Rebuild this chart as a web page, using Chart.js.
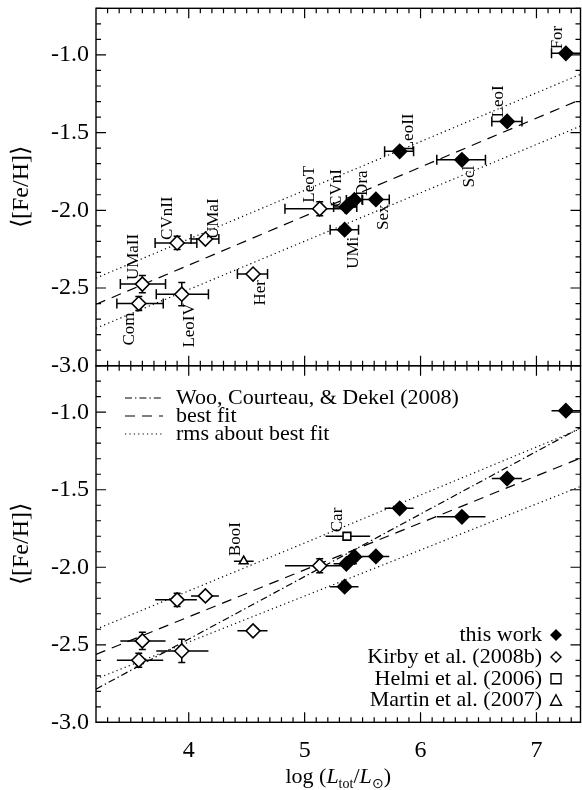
<!DOCTYPE html>
<html>
<head>
<meta charset="utf-8">
<script src="https://cdn.jsdelivr.net/npm/chart.js@4.4.1/dist/chart.umd.min.js"></script>
<style>
html,body{margin:0;padding:0;background:#fff;}
#wrap{position:relative;width:582px;height:790px;background:#fff;}
canvas{position:absolute;left:0;}
#top{top:0;}
#bot{top:360px;}
</style>
</head>
<body>
<div id="wrap">
<canvas id="top" width="582" height="372"></canvas>
<canvas id="bot" width="582" height="430"></canvas>
</div>
<script>
const serif = "'Liberation Serif', 'Times New Roman', serif";

// this work (filled diamonds)
const workNames = ['UMi','Scl','Dra','Sex','CVnI','LeoII','LeoI','For'];
const workLogL  = [5.345, 6.357, 5.43, 5.615, 5.36, 5.82, 6.747, 7.254];
const workFeH   = [-2.125, -1.675, -1.933, -1.93, -1.978, -1.62, -1.428, -0.99];
const workLo    = [5.22, 6.14, 5.36, 5.495, 5.25, 5.69, 6.615, 7.13];
const workHi    = [5.465, 6.56, 5.50, 5.73, 5.45, 5.94, 6.875, 7.40];
const workErr   = [0, 0, 0, 0, 0, 0, 0, 0];

// Kirby et al. (2008b) (open diamonds)
const kirbyNames = ['Com','UMaII','CVnII','UMaI','LeoIV','Her','LeoT'];
const kirbyLogL  = [3.569, 3.60, 3.90, 4.144, 3.94, 4.555, 5.13];
const kirbyFeH   = [-2.60, -2.475, -2.21, -2.185, -2.54, -2.41, -1.99];
const kirbyLo    = [3.38, 3.41, 3.71, 4.02, 3.72, 4.42, 4.83];
const kirbyHi    = [3.78, 3.80, 4.07, 4.26, 4.17, 4.68, 5.35];
const kirbyErr   = [0.045, 0.056, 0.043, 0.02, 0.075, 0.02, 0.045];

// Helmi et al. (2006) (open square) and Martin et al. (2007) (open triangle)
const helmiNames = ['Car'];
const helmiLogL = [5.365];
const helmiFeH = [-1.80];
const helmiLo = [5.18];
const helmiHi = [5.565];
const martinNames = ['BooI'];
const martinLogL = [4.474];
const martinFeH = [-1.961];
const martinLo = [4.39];
const martinHi = [4.56];

// relations, evaluated at the edges of the plot
const lineLogL = [3.2, 7.38];
const topFit   = [-2.605, -1.287];
const topRmsHi = [-2.436, -1.125];
const topRmsLo = [-2.759, -1.458];
const botWoo   = [-2.786, -1.10];
const botFit   = [-2.562, -1.296];
const botRmsHi = [-2.40, -1.107];
const botRmsLo = [-2.72, -1.479];

// axes
const xTicks = [4, 5, 6, 7];
const yTicks = [-3.0, -2.5, -2.0, -1.5, -1.0];

const legendLines = ['Woo, Courteau, & Dekel (2008)', 'best fit', 'rms about best fit'];
const legendSymbols = ['this work', 'Kirby et al. (2008b)', 'Helmi et al. (2006)', 'Martin et al. (2007)'];

// label placement: [dx, dy, direction]
const labelPlace = {
  Com:[-9,9,'down'], UMaII:[-9,-4,'up'], CVnII:[-10,-3,'up'], UMaI:[8,0,'up'],
  LeoIV:[8,9,'down'], Her:[7,6,'down'], LeoT:[-10,-6,'up'], CVnI:[-10,0,'up'],
  Dra:[8,-4,'up'], Sex:[8,5,'down'], UMi:[9,7,'down'], LeoII:[9,0,'up'],
  Scl:[8,6,'down'], LeoI:[-9,-4,'up'], For:[-8,-4,'up'], BooI:[-8,-5,'up'], Car:[-9,-4,'up']
};

const dashFit = [10, 7];
const dashDot = [1.2, 3.2];
const dashWoo = [7, 3, 1.4, 3];

function pts(xs, ys) { return xs.map((x, i) => ({x: x, y: ys[i]})); }

function lineSet(ys, dash) {
  return {type:'line', data: pts(lineLogL, ys), borderColor:'#000', borderWidth:1.2,
    borderDash: dash, pointRadius:0, showLine:true, fill:false, order:3};
}

function markSet(xs, ys, style, r, fill) {
  return {type:'scatter', data: pts(xs, ys), pointStyle: style, pointRadius: r,
    pointHoverRadius: r, backgroundColor: fill, borderColor:'#000', borderWidth:1.6, order:1};
}

function groups(panel) {
  const g = [
    {names: workNames, x: workLogL, y: workFeH, lo: workLo, hi: workHi, e: workErr},
    {names: kirbyNames, x: kirbyLogL, y: kirbyFeH, lo: kirbyLo, hi: kirbyHi, e: kirbyErr}
  ];
  if (panel === 'bottom') {
    g.push({names: helmiNames, x: helmiLogL, y: helmiFeH, lo: helmiLo, hi: helmiHi, e: [0]});
    g.push({names: martinNames, x: martinLogL, y: martinFeH, lo: martinLo, hi: martinHi, e: [0]});
  }
  return g;
}

function datasets(panel) {
  const d = [
    markSet(workLogL, workFeH, 'rectRot', 7, '#000'),
    markSet(kirbyLogL, kirbyFeH, 'rectRot', 7, '#fff')
  ];
  if (panel === 'top') {
    d.push(lineSet(topFit, dashFit), lineSet(topRmsHi, dashDot), lineSet(topRmsLo, dashDot));
  } else {
    d.push(markSet(helmiLogL, helmiFeH, 'rect', 5.5, '#fff'));
    d.push(markSet(martinLogL, martinFeH, 'triangle', 5, '#fff'));
    d.push(lineSet(botWoo, dashWoo), lineSet(botFit, dashFit), lineSet(botRmsHi, dashDot), lineSet(botRmsLo, dashDot));
  }
  return d;
}

function drawErrorBars(chart, panel) {
  const {ctx, chartArea: a, scales: {x, y}} = chart;
  ctx.save();
  ctx.beginPath();
  ctx.rect(a.left, a.top, a.right - a.left, a.bottom - a.top);
  ctx.clip();
  ctx.strokeStyle = '#000';
  ctx.lineWidth = 1.5;
  groups(panel).forEach(g => {
    g.names.forEach((n, i) => {
      const py = y.getPixelForValue(g.y[i]);
      const x0 = x.getPixelForValue(g.lo[i]), x1 = x.getPixelForValue(g.hi[i]);
      ctx.beginPath();
      ctx.moveTo(x0, py); ctx.lineTo(x1, py);
      if (panel === 'top') {
        ctx.moveTo(x0, py - 5); ctx.lineTo(x0, py + 5);
        ctx.moveTo(x1, py - 5); ctx.lineTo(x1, py + 5);
      }
      if (g.e[i] > 0) {
        const px = x.getPixelForValue(g.x[i]);
        const y0 = y.getPixelForValue(g.y[i] - g.e[i]), y1 = y.getPixelForValue(g.y[i] + g.e[i]);
        ctx.moveTo(px, y0); ctx.lineTo(px, y1);
        ctx.moveTo(px - 3.5, y0); ctx.lineTo(px + 3.5, y0);
        ctx.moveTo(px - 3.5, y1); ctx.lineTo(px + 3.5, y1);
      }
      ctx.stroke();
    });
  });
  ctx.restore();
}

function drawFrame(chart) {
  const {ctx, chartArea: a, scales: {x, y}} = chart;
  ctx.save();
  ctx.strokeStyle = '#000';
  ctx.lineWidth = 1.4;
  ctx.strokeRect(a.left, a.top, a.right - a.left, a.bottom - a.top);
  ctx.lineWidth = 1.2;
  ctx.beginPath();
  for (let i = 33; i <= 73; i++) {
    const px = x.getPixelForValue(i / 10);
    const L = (i % 10 === 0) ? 10 : 5;
    ctx.moveTo(px, a.bottom); ctx.lineTo(px, a.bottom - L);
    ctx.moveTo(px, a.top); ctx.lineTo(px, a.top + L);
  }
  for (let i = -30; i <= -7; i++) {
    const py = y.getPixelForValue(i / 10);
    const L = (i % 5 === 0) ? 10 : 5;
    ctx.moveTo(a.left, py); ctx.lineTo(a.left + L, py);
    ctx.moveTo(a.right, py); ctx.lineTo(a.right - L, py);
  }
  ctx.stroke();
  ctx.restore();
}

function drawPointLabels(chart, panel) {
  const {ctx, scales: {x, y}} = chart;
  const list = panel === 'top'
    ? [{names: workNames, x: workLogL, y: workFeH}, {names: kirbyNames, x: kirbyLogL, y: kirbyFeH}]
    : [{names: helmiNames, x: helmiLogL, y: helmiFeH}, {names: martinNames, x: martinLogL, y: martinFeH}];
  ctx.save();
  ctx.fillStyle = '#000';
  ctx.font = '17px ' + serif;
  ctx.textBaseline = 'middle';
  list.forEach(g => g.names.forEach((n, i) => {
    const p = labelPlace[n];
    ctx.save();
    ctx.translate(x.getPixelForValue(g.x[i]) + p[0], y.getPixelForValue(g.y[i]) + p[1]);
    ctx.rotate(-Math.PI / 2);
    ctx.textAlign = p[2] === 'up' ? 'left' : 'right';
    ctx.fillText(n, 0, 0);
    ctx.restore();
  }));
  ctx.restore();
}

function drawYTitle(chart) {
  const {ctx, chartArea: a} = chart;
  ctx.save();
  ctx.fillStyle = '#000';
  ctx.font = '24px ' + serif;
  ctx.textAlign = 'center';
  ctx.textBaseline = 'middle';
  ctx.translate(22, (a.top + a.bottom) / 2);
  ctx.rotate(-Math.PI / 2);
  ctx.fillText('\u27E8[Fe/H]\u27E9', 0, 0);
  ctx.restore();
}

function drawXTitle(chart) {
  const {ctx, chartArea: a} = chart;
  const parts = [
    ['log (', '22px ' + serif, 0], ['L', 'italic 22px ' + serif, 0], ['tot', '14px ' + serif, 5],
    ['/', '22px ' + serif, 0], ['L', 'italic 22px ' + serif, 0], ['\u2299', '14px ' + serif, 5],
    [')', '22px ' + serif, 0]
  ];
  ctx.save();
  ctx.fillStyle = '#000';
  ctx.textBaseline = 'alphabetic';
  let w = 0;
  parts.forEach(p => { ctx.font = p[1]; w += ctx.measureText(p[0]).width; });
  let cx = (a.left + a.right) / 2 - w / 2;
  const base = 423;
  parts.forEach(p => {
    ctx.font = p[1];
    ctx.fillText(p[0], cx, base + p[2]);
    cx += ctx.measureText(p[0]).width;
  });
  ctx.restore();
}

function drawLineLegend(chart) {
  const ctx = chart.ctx;
  const dashes = [dashWoo, dashFit, dashDot];
  ctx.save();
  ctx.fillStyle = '#000';
  ctx.strokeStyle = '#000';
  ctx.lineWidth = 1.2;
  ctx.font = '22px ' + serif;
  ctx.textBaseline = 'middle';
  legendLines.forEach((t, i) => {
    const yy = 38 + i * 18;
    ctx.setLineDash(dashes[i]);
    ctx.beginPath(); ctx.moveTo(125, yy); ctx.lineTo(163, yy); ctx.stroke();
    ctx.setLineDash([]);
    ctx.fillText(t, 176, yy);
  });
  ctx.restore();
}

function drawSymbolLegend(chart) {
  const ctx = chart.ctx;
  ctx.save();
  ctx.fillStyle = '#000';
  ctx.strokeStyle = '#000';
  ctx.lineWidth = 1.4;
  ctx.font = '22px ' + serif;
  ctx.textBaseline = 'middle';
  ctx.textAlign = 'right';
  legendSymbols.forEach((t, i) => {
    const yy = 275 + i * 21.9;
    ctx.fillText(t, 542, yy);
    const sx = 556;
    ctx.beginPath();
    if (i === 0) {
      ctx.moveTo(sx, yy - 6); ctx.lineTo(sx + 6, yy); ctx.lineTo(sx, yy + 6); ctx.lineTo(sx - 6, yy); ctx.closePath();
      ctx.fill();
    } else if (i === 1) {
      ctx.moveTo(sx, yy - 5); ctx.lineTo(sx + 5, yy); ctx.lineTo(sx, yy + 5); ctx.lineTo(sx - 5, yy); ctx.closePath();
      ctx.stroke();
    } else if (i === 2) {
      ctx.rect(sx - 5, yy - 5, 10, 10);
      ctx.stroke();
    } else {
      ctx.moveTo(sx, yy - 6); ctx.lineTo(sx + 5.5, yy + 4.5); ctx.lineTo(sx - 5.5, yy + 4.5); ctx.closePath();
      ctx.stroke();
    }
  });
  ctx.restore();
}

function decor(panel) {
  return {
    id: 'decor_' + panel,
    beforeDatasetsDraw(chart) { drawErrorBars(chart, panel); },
    afterDraw(chart) {
      drawFrame(chart);
      drawPointLabels(chart, panel);
      drawYTitle(chart);
      if (panel === 'bottom') {
        drawLineLegend(chart);
        drawSymbolLegend(chart);
        drawXTitle(chart);
      }
    }
  };
}

function xScale(show) {
  return {
    type: 'linear', min: 3.2, max: 7.38, display: show, position: 'bottom',
    grid: {display: false, drawTicks: false}, border: {display: false},
    ticks: {color: '#000', font: {family: serif, size: 24}, padding: 14, autoSkip: false,
      maxRotation: 0, callback: v => String(v)},
    afterBuildTicks: s => { s.ticks = xTicks.map(v => ({value: v})); },
    afterFit: s => {
      s.height = show ? 67.7 : 0;
      s.paddingLeft = 0; s.paddingRight = 0;
    }
  };
}

function yScale() {
  return {
    type: 'linear', min: -3.0, max: -0.7,
    grid: {display: false, drawTicks: false}, border: {display: false},
    ticks: {color: '#000', font: {family: serif, size: 24}, padding: 7, autoSkip: false,
      callback: v => v.toFixed(1)},
    afterBuildTicks: s => { s.ticks = yTicks.map(v => ({value: v})); },
    afterFit: s => {
      s.width = 96;
      s.paddingTop = 0; s.paddingBottom = 0;
    }
  };
}

function makeChart(id, panel, padding) {
  return new Chart(document.getElementById(id), {
    type: 'scatter',
    data: {datasets: datasets(panel)},
    options: {
      responsive: false, animation: false, devicePixelRatio: 1,
      layout: {padding: padding, autoPadding: false},
      plugins: {legend: {display: false}, tooltip: {enabled: false}},
      events: [],
      scales: {x: xScale(panel === 'bottom'), y: yScale()}
    },
    plugins: [decor(panel)]
  });
}

makeChart('top', 'top', {left: 0, right: 1.5, top: 8.3, bottom: 6.3});
makeChart('bot', 'bottom', {left: 0, right: 1.5, top: 5.7, bottom: 0});
</script>
</body>
</html>
